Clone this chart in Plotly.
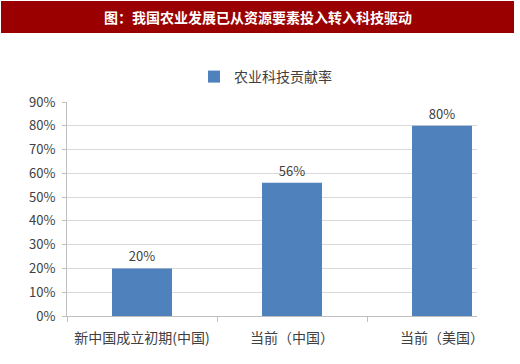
import plotly.graph_objects as go

categories = ["新中国成立初期(中国)", "当前（中国）", "当前（美国）"]
values = [0.20, 0.56, 0.80]
value_labels = ["20%", "56%", "80%"]
series_name = "农业科技贡献率"
title_text = "图：我国农业发展已从资源要素投入转入科技驱动"
y_ticks = [0, 0.1, 0.2, 0.3, 0.4, 0.5, 0.6, 0.7, 0.8, 0.9]
y_tick_labels = ["0%", "10%", "20%", "30%", "40%", "50%", "60%", "70%", "80%", "90%"]

FONT = "Noto Sans CJK SC"
TXT = "#404040"

fig = go.Figure()
fig.add_trace(go.Bar(
    x=categories, y=values, name=series_name,
    marker=dict(color="#4F81BD", line=dict(width=0)),
    width=0.4,
    text=value_labels, textposition="outside",
    textfont=dict(family=FONT, size=13, color=TXT),
    cliponaxis=False,
    showlegend=True,
))

L, R, T, B = 67, 43, 102, 48
W, H = 520, 364
pw, ph = W - L - R, H - T - B

def px_x(p):
    return (p - L) / pw

def px_y(p):
    return (H - B - p) / ph

fig.update_layout(
    width=W, height=H,
    margin=dict(l=L, r=R, t=T, b=B, pad=0),
    paper_bgcolor="white", plot_bgcolor="white",
    font=dict(family=FONT, size=12, color=TXT),
    showlegend=True,
    legend=dict(orientation="h", x=px_x(194), y=px_y(61), xanchor="left", yanchor="top",
                font=dict(family=FONT, size=14, color=TXT), bgcolor="rgba(0,0,0,0)",
                itemwidth=30),
    xaxis=dict(
        type="category", range=[-0.5, 2.5 - 40 / 150],
        showline=True, linecolor="#BFBFBF", linewidth=1,
        ticks="outside", tickson="boundaries", ticklen=5, tickcolor="#BFBFBF",
        showgrid=False, ticklabelstandoff=9,
        tickfont=dict(family=FONT, size=14, color=TXT),
    ),
    yaxis=dict(
        range=[0, 0.9], tickvals=y_ticks, ticktext=y_tick_labels,
        showline=True, linecolor="#BFBFBF", linewidth=1,
        ticks="outside", ticklen=4, tickcolor="#BFBFBF",
        showgrid=True, gridcolor="#D9D9D9", gridwidth=1,
        zeroline=False, ticklabelstandoff=4,
        tickfont=dict(family=FONT, size=13, color=TXT),
    ),
    shapes=[dict(type="rect", xref="paper", yref="paper",
                 x0=px_x(1), x1=px_x(514), y0=px_y(33), y1=px_y(1),
                 fillcolor="#9B0000", line=dict(width=0), layer="above")],
    annotations=[dict(text="<b>" + title_text + "</b>", xref="paper", yref="paper",
                      x=px_x(258), y=px_y(17), xanchor="center", yanchor="middle",
                      showarrow=False, font=dict(family=FONT, size=14, color="white"))],
)

fig.write_html(
    "out.html",
    config={"displayModeBar": False},
    post_script="document.body.style.margin='0';document.body.style.overflow='hidden';",
)
